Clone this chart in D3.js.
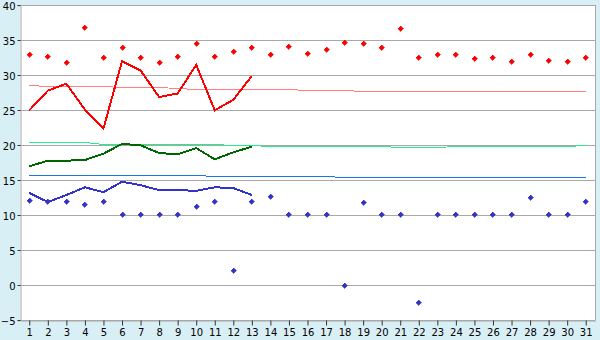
<!DOCTYPE html>
<html>
<head>
<meta charset="utf-8">
<script src="https://cdn.jsdelivr.net/npm/d3@7"></script>
<style>
  html, body { margin: 0; padding: 0; background: #d9eff6; }
  svg { display: block; font-family: "DejaVu Sans", Verdana, sans-serif; font-size: 10px; }
</style>
</head>
<body>
<div id="chart"></div>
<script>
const days = d3.range(1, 32);
const yTicks = [-5, 0, 5, 10, 15, 20, 25, 30, 35, 40];

// red diamonds (all days)
const redPoints = [33.0, 32.7, 31.9, 36.8, 32.5, 33.9, 32.5, 31.9, 32.7, 34.6,
  32.7, 33.4, 33.9, 33.0, 34.1, 33.1, 33.7, 34.7, 34.6, 34.0,
  36.7, 32.6, 33.0, 33.0, 32.4, 32.6, 32.0, 33.0, 32.1, 32.0, 32.6];
// red line (days 1-13)
const redLine = [25.0, 27.8, 28.8, 25.1, 22.4, 32.0, 30.7, 26.9, 27.4, 31.5, 25.0, 26.5, 29.9];
// pink trend
const pinkTrend = [28.57, 28.43, 28.43, 28.43, 28.43, 28.29, 28.26, 28.19, 28.11, 28.0,
  28.0, 28.0, 28.0, 28.0, 28.0, 27.86, 27.86, 27.86, 27.71, 27.71,
  27.71, 27.71, 27.71, 27.71, 27.71, 27.71, 27.71, 27.71, 27.71, 27.71, 27.71];

// dark green line (days 1-13)
const greenLine = [17.0, 17.8, 17.8, 17.9, 18.8, 20.2, 20.0, 18.9, 18.7, 19.6, 18.0, 19.0, 19.8];
// light green trend
const greenTrend = [20.43, 20.43, 20.33, 20.33, 20.14, 20.06, 20.06, 20.06, 20.06, 20.06,
  20.06, 20.04, 20.04, 19.9, 19.9, 19.9, 19.9, 19.9, 19.9, 19.9,
  19.71, 19.71, 19.71, 19.9, 19.9, 19.9, 19.9, 19.9, 19.9, 19.9, 20.04];

// blue diamonds (all days)
const bluePoints = [12.1, 12.0, 12.0, 11.6, 12.0, 10.1, 10.1, 10.1, 10.1, 11.2,
  12.0, 2.1, 12.0, 12.7, 10.1, 10.1, 10.1, 0.0, 11.9, 10.1,
  10.1, -2.4, 10.1, 10.1, 10.1, 10.1, 10.1, 12.6, 10.1, 10.1, 12.0];
// blue line (days 1-13)
const blueLine = [13.2, 11.9, 12.9, 14.0, 13.3, 14.8, 14.3, 13.6, 13.6, 13.5, 14.0, 13.9, 12.9];
// blue trend
const blueTrend = [15.71, 15.71, 15.71, 15.71, 15.71, 15.71, 15.71, 15.71, 15.71, 15.71,
  15.57, 15.57, 15.57, 15.57, 15.57, 15.57, 15.57, 15.43, 15.43, 15.43,
  15.43, 15.43, 15.43, 15.43, 15.43, 15.43, 15.43, 15.43, 15.43, 15.43, 15.43];

const width = 600, height = 340;
const pad = { l: 20, r: 5, t: 5, b: 20 };

const svg = d3.select("#chart").append("svg").attr("width", width).attr("height", height);

const x = d3.scaleBand().domain(days).range([pad.l, width - pad.r]);
const y = d3.scaleLinear().domain([-5, 40]).range([height - pad.b + 0.3, pad.t + 0.3]);
const cx = (d) => x(d) + x.bandwidth() / 2;
const py = (v) => Math.floor(y(v)) + 0.5; // snap to a pixel row

svg.append("rect")
  .attr("x", pad.l).attr("y", pad.t)
  .attr("width", width - pad.l - pad.r).attr("height", height - pad.t - pad.b)
  .attr("fill", "#fff");

// gridlines
svg.append("g").selectAll("line").data(yTicks).enter().append("line")
  .attr("x1", pad.l).attr("x2", width - pad.r)
  .attr("y1", (d) => py(d)).attr("y2", (d) => py(d))
  .attr("stroke", "#a8a8a8");

// right border
svg.append("line")
  .attr("x1", width - pad.r + 0.5).attr("x2", width - pad.r + 0.5)
  .attr("y1", pad.t).attr("y2", height - pad.b)
  .attr("stroke", "#a8a8a8");

// y axis
const yAxis = d3.axisLeft(y).tickValues(yTicks).tickSize(3).tickPadding(2)
  .tickFormat((d) => (d < 0 ? "\u2212" + Math.abs(d) : d));
const yAxis_g = svg.append("g").attr("transform", `translate(${pad.l + 0.5},0)`).call(yAxis);
yAxis_g.select(".domain").attr("stroke", "#a8a8a8");
yAxis_g.selectAll(".tick").attr("transform", (d) => `translate(0,${py(d)})`);
yAxis_g.selectAll(".tick line").attr("stroke", "#333");
yAxis_g.selectAll("text").attr("font-size", 10).attr("font-family", "DejaVu Sans").attr("fill", "#000").attr("dy", "0.45em");

// x axis
const xAxis = d3.axisBottom(x).tickSize(5).tickPadding(3).tickSizeOuter(0);
const xAxis_g = svg.append("g").attr("transform", `translate(0.5,${height - pad.b + 0.5})`).call(xAxis);
xAxis_g.select(".domain").attr("stroke", "#a8a8a8");
xAxis_g.selectAll(".tick line").attr("stroke", "#333");
xAxis_g.selectAll("text").attr("font-size", 10).attr("font-family", "DejaVu Sans").attr("fill", "#000");

function drawLine(values, color, w, snap) {
  const line = d3.line().x((d, i) => cx(days[i])).y((d) => (snap ? py(d) : y(d)));
  svg.append("path").datum(values)
    .attr("d", line)
    .attr("fill", "none")
    .attr("stroke", color)
    .attr("stroke-width", w)
    .attr("shape-rendering", "crispEdges");
}

// trend lines
drawLine(pinkTrend, "#ff8080", 1, true);
drawLine(greenTrend, "#22ee88", 1, true);
drawLine(blueTrend, "#1a78e6", 1, true);

// series lines
drawLine(redLine, "#ff0000", 2, false);
drawLine(greenLine, "#006600", 2, false);
drawLine(blueLine, "#3333cc", 2, false);

// small cross-diamond markers (1-3-5-3-1 pixel rows)
const marker = "M-0.5,-2.5H0.5V-1.5H1.5V-0.5H2.5V0.5H1.5V1.5H0.5V2.5H-0.5V1.5H-1.5V0.5H-2.5V-0.5H-1.5V-1.5H-0.5Z";
function drawPoints(values, color) {
  svg.append("g").selectAll("path").data(values).enter().append("path")
    .attr("d", marker)
    .attr("transform", (d, i) => `translate(${Math.floor(cx(days[i])) + 0.5},${py(d)})`)
    .attr("fill", color)
    .attr("stroke", color)
    .attr("stroke-width", 0.6)
    .attr("shape-rendering", "crispEdges");
}
drawPoints(redPoints, "#ff0000");
drawPoints(bluePoints, "#3333cc");
</script>
</body>
</html>
